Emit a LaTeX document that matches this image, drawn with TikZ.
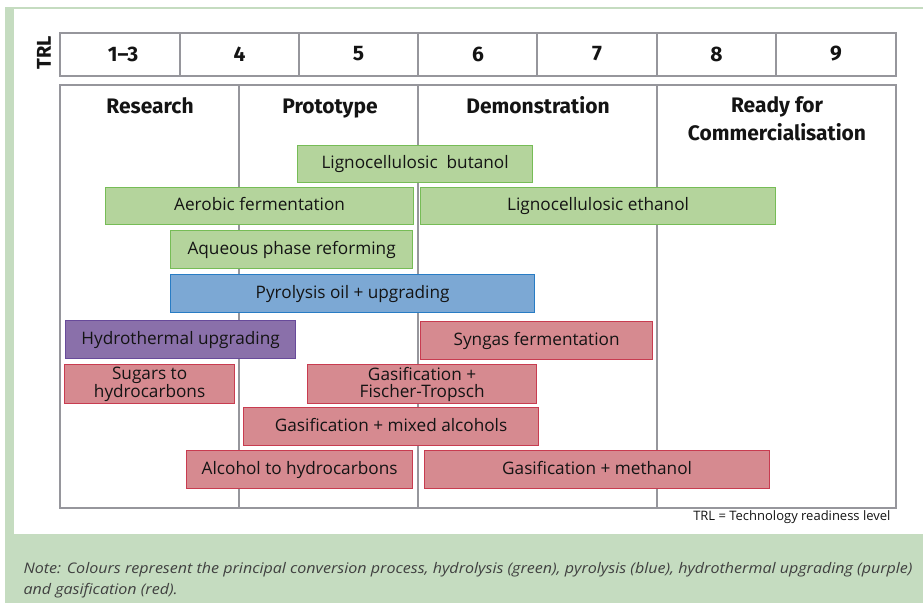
\documentclass[tikz,border=0pt]{standalone}
\usepackage{fontspec}
\setmainfont{Open Sans}
\newfontfamily\headfont{Fira Sans}
\newfontfamily\notefont{Open Sans}[FakeStretch=1.1]
\definecolor{framegreen}{RGB}{197,220,192}
\definecolor{gridgray}{RGB}{150,150,156}
\definecolor{hydfill}{RGB}{180,212,156}
\definecolor{hyddraw}{RGB}{118,188,86}
\definecolor{pyrfill}{RGB}{124,168,212}
\definecolor{pyrdraw}{RGB}{40,124,196}
\definecolor{htufill}{RGB}{138,112,170}
\definecolor{htudraw}{RGB}{104,74,154}
\definecolor{gasfill}{RGB}{214,138,144}
\definecolor{gasdraw}{RGB}{200,60,80}
\definecolor{inkgray}{RGB}{20,20,20}
\tikzset{
  grid/.style={draw=gridgray, line width=1.6pt},
  trlnum/.style={font=\headfont\fontsize{21}{22}\selectfont\bfseries, text=inkgray},
  stage/.style={font=\headfont\fontsize{21}{28.5}\selectfont\bfseries, text=inkgray, align=center},
  procbar/.style={line width=1.2pt, inner sep=0pt, anchor=north west,
    font=\fontsize{17.2}{17}\selectfont, align=center, text=inkgray},
  oneline/.style={text height=12.5pt, text depth=3.5pt},
  hydrolysis/.style={procbar, fill=hydfill, draw=hyddraw},
  pyrolysis/.style={procbar, fill=pyrfill, draw=pyrdraw},
  htu/.style={procbar, fill=htufill, draw=htudraw},
  gasif/.style={procbar, fill=gasfill, draw=gasdraw},
}
\begin{document}
\begin{tikzpicture}[x=1pt, y=-1pt]
\useasboundingbox (0,0) rectangle (923,603);
% page frame and note band
\fill[white] (0,0) rectangle (923,603);
\fill[framegreen] (5,7) rectangle (923,603);
\fill[white] (14,9) rectangle (923,534);

% TRL header row
\node[rotate=90, font=\headfont\fontsize{20}{20}\selectfont\bfseries, text=inkgray] (trl) at (44,53) {TRL};
\draw[grid] (60,33) rectangle (896,76);
\foreach \x in {180,299,418,537,657,776} \draw[grid] (\x,33) -- (\x,76);
\node[trlnum] (t13) at (123,54) {1–3};
\node[trlnum] (t4) at (239.5,54) {4};
\node[trlnum] (t5) at (358.5,54) {5};
\node[trlnum] (t6) at (478,54) {6};
\node[trlnum] (t7) at (597,54) {7};
\node[trlnum] (t8) at (716.5,54) {8};
\node[trlnum] (t9) at (836,54) {9};

% stage table
\draw[grid] (60,85) rectangle (896,508);
\foreach \x in {239,418,657} \draw[grid] (\x,85) -- (\x,508);
\node[stage, anchor=base] (research) at (150,113) {Research};
\node[stage, anchor=base] (prototype) at (330,113) {Prototype};
\node[stage, anchor=base] (demo) at (538,113) {Demonstration};
\node[stage, anchor=north] (ready) at (777,93) {Ready for\\Commercialisation};

% conversion routes
\node[hydrolysis, oneline, minimum width=235pt, minimum height=37pt] (lbut) at (297,145) {Lignocellulosic\ \ butanol};
\node[hydrolysis, oneline, minimum width=308pt, minimum height=37pt] (aero) at (105,187) {Aerobic fermentation};
\node[hydrolysis, oneline, minimum width=355pt, minimum height=37pt] (leth) at (420,187) {Lignocellulosic ethanol};
\node[hydrolysis, oneline, minimum width=242pt, minimum height=38pt] (aqu) at (170,230) {Aqueous phase reforming};
\node[pyrolysis, oneline, minimum width=364pt, minimum height=38pt] (pyro) at (170,274) {Pyrolysis oil + upgrading};
\node[htu, oneline, minimum width=230pt, minimum height=38pt] (hydro) at (65,320) {Hydrothermal upgrading};
\node[gasif, oneline, minimum width=232pt, minimum height=38pt] (syn) at (420,321) {Syngas fermentation};
\node[gasif, minimum width=170pt, minimum height=39pt] (sug) at (64,364) {Sugars to\\hydrocarbons};
\node[gasif, minimum width=229pt, minimum height=39pt] (gft) at (307,364) {Gasification +\\Fischer-Tropsch};
\node[gasif, oneline, minimum width=295pt, minimum height=38pt] (gma) at (243,407) {Gasification + mixed alcohols};
\node[gasif, oneline, minimum width=226pt, minimum height=38pt] (ath) at (186,450) {Alcohol to hydrocarbons};
\node[gasif, oneline, minimum width=345pt, minimum height=38pt] (gme) at (424,450) {Gasification + methanol};

% footnotes
\node[anchor=east, font=\fontsize{13}{14}\selectfont, text=inkgray] (abbr) at (894,517) {TRL = Technology readiness level};
\node[anchor=west, align=left, font=\notefont\itshape\fontsize{14.6}{21}\selectfont, text=black!75] (note) at (20,580)
  {Note: Colours represent the principal conversion process, hydrolysis (green), pyrolysis (blue), hydrothermal upgrading (purple)\\and gasification (red).};
\end{tikzpicture}
\end{document}
